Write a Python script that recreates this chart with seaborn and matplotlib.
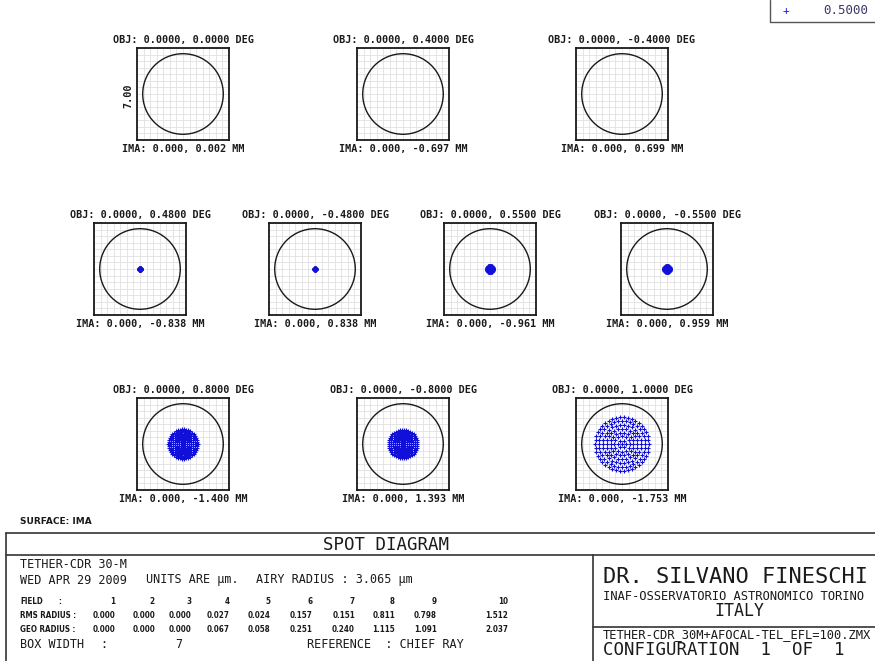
import numpy as np
import pandas as pd
import matplotlib.pyplot as plt
from matplotlib.patches import Circle
import seaborn as sns

# Field data
field_num = [1, 2, 3, 4, 5, 6, 7, 8, 9, 10]
obj_deg = [0.0, 0.4, -0.4, 0.48, -0.48, 0.55, -0.55, 0.8, -0.8, 1.0]
ima_mm = [0.002, -0.697, 0.699, -0.838, 0.838, -0.961, 0.959, -1.400, 1.393, -1.753]
rms_radius = [0.000, 0.000, 0.000, 0.027, 0.024, 0.157, 0.151, 0.811, 0.798, 1.512]
geo_radius = [0.000, 0.000, 0.000, 0.067, 0.058, 0.251, 0.240, 1.115, 1.091, 2.037]
airy_radius = 3.065
box_width = 7
wavelength = 0.5

# panel centres in pixels (layout only)
panel_x = [183, 403, 622, 140, 315, 490, 667, 183, 403, 622]
panel_y = [94, 94, 94, 269, 269, 269, 269, 444, 444, 444]
BOX = 92
W, H = 875, 661

sns.set_style("white")
plt.rcParams['font.family'] = ['DejaVu Sans Mono', 'DejaVu Sans']

INK = '#1a1a1a'
SPOT = '#1010d8'
MONO = 'DejaVu Sans Mono'

# hexapolar pupil sampling (unit pupil), scaled by each field's GEO radius
rings = 7
pu, pv = [0.0], [0.0]
for k in range(1, rings + 1):
    ang = np.linspace(0, 2 * np.pi, 6 * k, endpoint=False)
    pu += list(k / rings * np.cos(ang))
    pv += list(k / rings * np.sin(ang))
pu, pv = np.array(pu), np.array(pv)

fig = plt.figure(figsize=(8.75, 6.61), dpi=100)
bg = fig.add_axes([0, 0, 1, 1])
bg.set_xlim(0, W)
bg.set_ylim(H, 0)
bg.axis('off')

half = box_width / 2
ticks = np.arange(-half, half + 0.01, 0.5)

for i in range(len(field_num)):
    cx, cy = panel_x[i], panel_y[i]
    ax = fig.add_axes([(cx - BOX / 2) / W, 1 - (cy + BOX / 2) / H, BOX / W, BOX / H])
    ax.set_xlim(-half, half)
    ax.set_ylim(-half, half)
    ax.set_xticks(ticks)
    ax.set_yticks(ticks)
    ax.tick_params(length=0, labelbottom=False, labelleft=False)
    ax.grid(True, color='#e1e1e1', lw=0.6)
    ax.set_axisbelow(True)
    for sp in ax.spines.values():
        sp.set_color(INK)
        sp.set_linewidth(1.3)
    ax.add_patch(Circle((0, 0), airy_radius, fill=False, ec=INK, lw=1.0))
    if geo_radius[i] > 0:
        df = pd.DataFrame({'x': pu * geo_radius[i], 'y': pv * geo_radius[i]})
        sns.scatterplot(data=df, x='x', y='y', ax=ax, marker='+', color=SPOT,
                        s=10, linewidth=0.8, legend=False)
    ax.set_xlabel('')
    ax.set_ylabel('')

    bg.text(cx, cy - BOX / 2 - 3, f"OBJ: 0.0000, {obj_deg[i]:.4f} DEG", ha='center', va='bottom',
            fontsize=7.3, fontweight='bold', color=INK, family=MONO)
    bg.text(cx, cy + BOX / 2 + 4, f"IMA: 0.000, {ima_mm[i]:.3f} MM", ha='center', va='top',
            fontsize=7.3, fontweight='bold', color=INK, family=MONO)

# box width label beside the first panel
bg.text(panel_x[0] - BOX / 2 - 4, panel_y[0] + 2, f"{box_width:.2f}", rotation=90, ha='right',
        va='center', fontsize=7.3, fontweight='bold', color=INK, family=MONO)

# wavelength legend, top right
bg.plot([770, 770, W], [0, 22, 22], color='#555555', lw=1.0)
bg.text(786, 11, '+', ha='center', va='center', fontsize=8, color=SPOT, family=MONO)
bg.text(868, 11, f"{wavelength:.4f}", ha='right', va='center', fontsize=9, color='#3a3a6a', family=MONO)

bg.text(20, 522, 'SURFACE: IMA', ha='left', va='center', fontsize=6.5, fontweight='bold',
        color=INK, family='DejaVu Sans')

# title block frame
bg.plot([6, W], [533, 533], color='#333333', lw=1.2)
bg.plot([6, W], [555, 555], color='#333333', lw=1.2)
bg.plot([6, 6], [533, H], color='#333333', lw=1.2)
bg.plot([593, 593], [555, H], color='#333333', lw=1.2)
bg.plot([593, W], [627, 627], color='#333333', lw=1.2)

bg.text(386, 545, 'SPOT DIAGRAM', ha='center', va='center', fontsize=12.5, color=INK, family=MONO)

big = dict(fontsize=8.5, color=INK, family=MONO, va='center', ha='left')
bg.text(20, 565, 'TETHER-CDR 30-M', **big)
bg.text(20, 580, 'WED APR 29 2009', **big)
bg.text(146, 580, 'UNITS ARE \u00b5m.', **big)
bg.text(256, 580, f"AIRY RADIUS : {airy_radius:.3f} \u00b5m", **big)

row_y = {'FIELD': 601, 'RMS': 615, 'GEO': 629}
col_right = [115, 155, 191, 230, 270, 313, 355, 395, 437, 508]
small = dict(fontsize=5.8, fontweight='bold', fontstretch='condensed', color=INK,
             family='DejaVu Sans', va='center')
bg.text(20, row_y['FIELD'], 'FIELD', ha='left', **small)
bg.text(58, row_y['FIELD'], ':', ha='left', **small)
bg.text(20, row_y['RMS'], 'RMS RADIUS :', ha='left', **small)
bg.text(20, row_y['GEO'], 'GEO RADIUS :', ha='left', **small)
for j in range(len(field_num)):
    bg.text(col_right[j], row_y['FIELD'], str(field_num[j]), ha='right', **small)
    bg.text(col_right[j], row_y['RMS'], f"{rms_radius[j]:.3f}", ha='right', **small)
    bg.text(col_right[j], row_y['GEO'], f"{geo_radius[j]:.3f}", ha='right', **small)

bg.text(20, 645, 'BOX WIDTH', **big)
bg.text(100, 645, ':', **big)
bg.text(175, 645, f"{box_width}", **big)
bg.text(307, 645, 'REFERENCE  : CHIEF RAY', **big)

# right title block
bg.text(603, 577, 'DR. SILVANO FINESCHI', ha='left', va='center', fontsize=15.8, color=INK, family=MONO)
bg.text(603, 597, 'INAF-OSSERVATORIO ASTRONOMICO TORINO', ha='left', va='center', fontsize=8.7,
        color=INK, family=MONO)
bg.text(739, 611, 'ITALY', ha='center', va='center', fontsize=12, color=INK, family=MONO)
bg.text(603, 638, 'TETHER-CDR_30M+AFOCAL-TEL_EFL=100.ZMX', ha='left', va='baseline', fontsize=8.7,
        color=INK, family=MONO)
bg.text(603, 655, 'CONFIGURATION  1  OF  1', ha='left', va='baseline', fontsize=12.5, color=INK,
        family=MONO)

fig.savefig('out.png', dpi=100)
